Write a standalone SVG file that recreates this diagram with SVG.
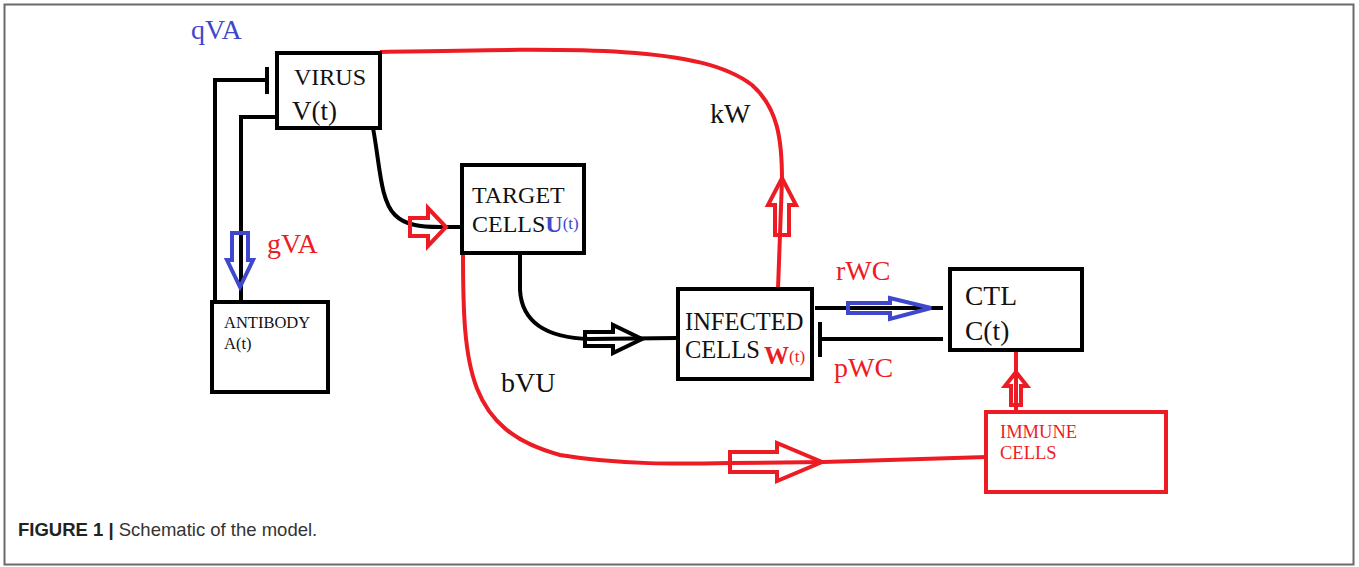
<svg xmlns="http://www.w3.org/2000/svg" width="1359" height="567" viewBox="0 0 1359 567">
<style>
.box{fill:#fff;stroke:#000;stroke-width:4}
.rbox{fill:#fff;stroke:#ED1C24;stroke-width:4}
.t{font-family:"Liberation Serif","Times New Roman",serif;fill:#111}
.bl{stroke:#000;stroke-width:4;fill:none}
.rl{stroke:#ED1C24;stroke-width:4;fill:none}
.ba{stroke:#000;stroke-width:4;fill:none;stroke-linejoin:miter}
.ra{stroke:#ED1C24;stroke-width:4;fill:none;stroke-linejoin:miter}
.ua{stroke:#3F48CC;stroke-width:4;fill:none;stroke-linejoin:miter}
.cap{font-family:"Liberation Sans",Arial,sans-serif;font-size:18.5px;fill:#333}
</style>
<rect x="4.5" y="4.5" width="1349" height="560" fill="#fff" stroke="#6a6a6a" stroke-width="2"/>
<g id="connectors">
<!-- inhibition from antibody to virus -->
<polyline class="bl" points="215,300 215,80 267,80"/>
<line class="bl" x1="267" y1="67" x2="267" y2="94"/>
<!-- virus to antibody -->
<polyline class="bl" points="277,117 241,117 241,300"/>
<polygon class="ua" points="232,233 248,233 248,260 253,260 240,287 227,260 232,260"/>
<!-- virus to target -->
<path class="bl" d="M373,128 C380,165 380,200 395,215 C405,225 420,227 440,227 L462,227"/>
<polygon class="ra" points="410,218 428,218 428,208 446,227 428,246 428,236 410,236"/>
<!-- target to infected -->
<path class="bl" d="M520,253 L520,290 C522,325 550,338 590,339 L677,338"/>
<polygon class="ba" points="585,332 613,332 613,325 642,339 613,353 613,346 585,346"/>
<!-- virus to top red curve kW -->
<path class="rl" d="M380,52 C580,48 700,45 752,85 C778,108 782,140 782,180 L778,289"/>
<polygon class="ra" points="775,235 775,205 768,205 782,178 796,205 789,205 789,235"/>
<!-- target to immune (bVU) -->
<path class="rl" d="M463,253 C463,370 468,430 560,455 C620,465 680,464 730,463 L823,462 L987,457"/>
<polygon class="ra" points="730,452 777,452 777,443 822,462 777,481 777,472 730,472"/>
<!-- infected to CTL -->
<line class="bl" x1="815" y1="308" x2="943" y2="308"/>
<polygon class="ua" points="848,303 890,303 890,298 931,308 890,319 890,313 848,313"/>
<!-- CTL inhibits infected -->
<line class="bl" x1="943" y1="339" x2="820" y2="339"/>
<line class="bl" x1="820" y1="322" x2="820" y2="357"/>
<!-- immune to CTL -->
<line class="rl" x1="1016" y1="352" x2="1016" y2="412"/>
<polygon class="ra" points="1011,405 1011,386 1005,386 1016,372 1027,386 1021,386 1021,405"/>
</g>
<g id="virus">
<rect class="box" x="277" y="53" width="103" height="75"/>
<text class="t" x="294" y="85" font-size="24">VIRUS</text>
<text class="t" x="292" y="120" font-size="27">V(t)</text>
</g>
<g id="antibody">
<rect class="box" x="212" y="302" width="116" height="90"/>
<text class="t" x="224" y="328" font-size="16.5">ANTIBODY</text>
<text class="t" x="224" y="349" font-size="16.5">A(t)</text>
</g>
<g id="target">
<rect class="box" x="462" y="165" width="122" height="88"/>
<text class="t" x="472" y="203" font-size="24">TARGET</text>
<text class="t" x="472" y="232" font-size="24">CELLS<tspan fill="#3F48CC" font-weight="bold" font-size="24">U</tspan><tspan fill="#3F48CC" font-size="17" dy="-3">(t)</tspan></text>
</g>
<g id="infected">
<rect class="box" x="678" y="289" width="134" height="90"/>
<text class="t" x="685" y="330" font-size="24.5">INFECTED</text>
<text class="t" x="685" y="358" font-size="24.5">CELLS</text>
<text class="t" x="764" y="364" font-size="25" font-weight="bold" style="fill:#ED1C24">W<tspan font-weight="normal" font-size="17" dy="-2">(t)</tspan></text>
</g>
<g id="ctl">
<rect class="box" x="950" y="269" width="132" height="81"/>
<text class="t" x="965" y="305" font-size="27.5">CTL</text>
<text class="t" x="965" y="340" font-size="27.5">C(t)</text>
</g>
<g id="immune">
<rect class="rbox" x="986" y="412" width="180" height="80"/>
<text class="t" x="1000" y="438" font-size="18.5" style="fill:#ED1C24">IMMUNE</text>
<text class="t" x="1000" y="459" font-size="18.5" style="fill:#ED1C24">CELLS</text>
</g>
<g id="labels">
<text class="t" x="191" y="39" font-size="28" style="fill:#3F48CC">qVA</text>
<text class="t" x="267" y="253" font-size="28" style="fill:#ED1C24">gVA</text>
<text class="t" x="710" y="123" font-size="28">kW</text>
<text class="t" x="836" y="280" font-size="28" style="fill:#ED1C24">rWC</text>
<text class="t" x="834" y="377" font-size="28" style="fill:#ED1C24">pWC</text>
<text class="t" x="501" y="392" font-size="28">bVU</text>
</g>
<text class="cap" x="18" y="536"><tspan font-weight="bold" fill="#222">FIGURE 1 |</tspan> Schematic of the model.</text>
</svg>
